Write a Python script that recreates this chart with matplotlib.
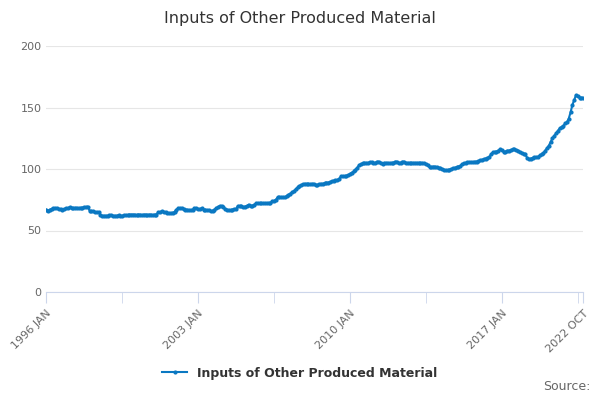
import matplotlib
matplotlib.use("Agg")
import matplotlib.pyplot as plt
import numpy as np

# monthly values, Jan 1996 .. Oct 2022
v1996 = [67,66,67,67.5,68,68,68,67.5,67.5,67,67.5,68]
v1997 = [68,69,68.5,68,68.5,68.5,68,68.5,68.5,69,69,69.5]
v1998 = [66,65.5,65.5,65,65,65,62.5,62,62,62,62,62.5]
v1999 = [62.5,62,62,62,62.5,62,62,62.5,62.5,62.5,63,63]
v2000 = [63,63,62.5,63,63,62.5,63,63,62.5,63,63,62.5]
v2001 = [63,63,65,65,65.5,65,65,64,64,64,64.5,65]
v2002 = [67,68,68,68,67.5,67,67,66.5,66.5,67,68,68]
v2003 = [67.5,67.5,68,67,67,66.5,66.5,65.5,66,67,68,69]
v2004 = [70,70,69,67.5,67,66.5,66.5,67,67.5,67.5,70,70]
v2005 = [70,69,69.5,70,71,70,70,71,72,72,72,72]
v2006 = [72,72,72,72.5,72,74,74,75,77,77,77,77]
v2007 = [77,78,79,80,81,82,83.5,85,86,87,87.5,88]
v2008 = [88,88,87.5,88,88,87,87,87.5,88,88,88.5,89]
v2009 = [89,89.5,90,90.5,91,91,92,94,94,94,94.5,95]
v2010 = [96,97,98,99.5,101,103,104,104.5,105,105,105,105.5]
v2011 = [105.5,105,105,106,106,105,104,105,105,105,104.5,105]
v2012 = [105,106,106,105,105,106,106,105,105,105,105,105]
v2013 = [105,105,105,105,105,104.5,104,103,101.5,101.5,102,102]
v2014 = [101.5,101,100.5,100,99.5,99,99,99.5,100,100.5,101,101.5]
v2015 = [102,102.5,104,104.5,105,105.5,105.5,105.5,105.5,106,106,106.5]
v2016 = [107,107.5,108,108.5,109,109.5,112,113.5,114,114,115,116]
v2017 = [115.5,114,114,115,115,115.5,116,116,115.5,115,113.5,113]
v2018 = [112.5,112,109,108,108.5,109,109.5,109.5,110,111,112,113]
v2019 = [115,117,119,122,125,127,129,131,133,134,135,137]
v2020 = [138,141,146,152,156,160,159,158,158,158]
values = (v1996+v1997+v1998+v1999+v2000+v2001+v2002+v2003+v2004+v2005+v2006+
          v2007+v2008+v2009+v2010+v2011+v2012+v2013+v2014+v2015+v2016+v2017+
          v2018+v2019+v2020)
n = len(values)
tick_labels = ["1996 JAN", "2003 JAN", "2010 JAN", "2017 JAN", "2022 OCT"]

fig = plt.figure(figsize=(6, 4), dpi=100)
ax = fig.add_axes([0.077, 0.27, 0.895, 0.615])
x = np.arange(n)
ax.plot(x, values, color="#0a78c2", lw=1.5, marker="o", ms=2.0)
ax.set_xlim(0, n - 1)
ax.set_ylim(0, 200)
ax.set_yticks([0, 50, 100, 150, 200])
ax.grid(axis="y", color="#e6e6e6", lw=0.8)
ax.set_axisbelow(True)
for s in ["top", "right", "left"]:
    ax.spines[s].set_visible(False)
ax.spines["bottom"].set_color("#ccd6eb")
ax.tick_params(axis="y", length=0, labelsize=8, colors="#666666")
minor = list(range(0, n, 42)) + [n - 1]
ax.set_xticks(minor, minor=True)
ax.tick_params(axis="x", which="minor", length=8, color="#ccd6eb")
major = [0, 84, 168, 252, n - 1]
ax.set_xticks(major)
ax.set_xticklabels(tick_labels, rotation=45, ha="right", rotation_mode="anchor",
                   fontsize=8, color="#666666")
ax.tick_params(axis="x", length=8, color="#ccd6eb")
fig.text(0.5, 0.955, "Inputs of Other Produced Material", ha="center", va="center",
         fontsize=11.5, color="#333333")
ax.plot([], [], color="#0a78c2", lw=1.5, marker="o", ms=2.0,
        label="Inputs of Other Produced Material")
leg = fig.legend(*ax.get_legend_handles_labels(), loc="center", bbox_to_anchor=(0.5, 0.067),
                 frameon=False, prop={"size": 9, "weight": "bold"})
for t in leg.get_texts():
    t.set_color("#333333")
fig.text(0.985, 0.025, "Source:", ha="right", fontsize=9, color="#666666")
fig.savefig("out.png")
